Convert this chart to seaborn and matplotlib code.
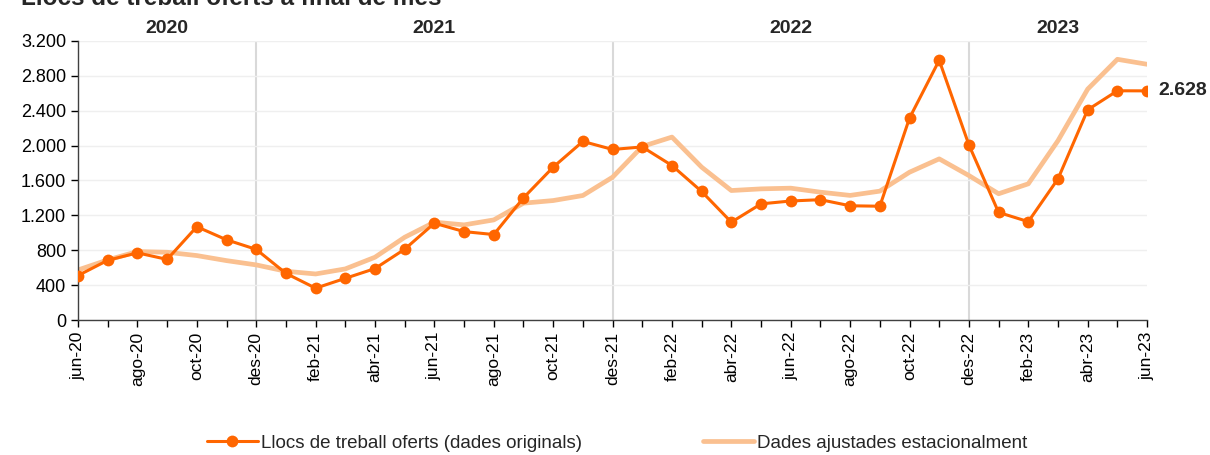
import numpy as np
import pandas as pd
import matplotlib
matplotlib.use("Agg")
import matplotlib.pyplot as plt
import matplotlib.ticker as mticker
import seaborn as sns

# ====== 数据 ======
MONTH_NAMES = ["jun-20", "jul-20", "ago-20", "set-20", "oct-20", "nov-20", "des-20",
               "gen-21", "feb-21", "mar-21", "abr-21", "mai-21", "jun-21", "jul-21",
               "ago-21", "set-21", "oct-21", "nov-21", "des-21",
               "gen-22", "feb-22", "mar-22", "abr-22", "mai-22", "jun-22", "jul-22",
               "ago-22", "set-22", "oct-22", "nov-22", "des-22",
               "gen-23", "feb-23", "mar-23", "abr-23", "mai-23", "jun-23"]

ORIGINAL = [510, 685, 770, 695, 1070, 920, 810,
            535, 365, 478, 590, 812, 1110, 1014,
            980, 1401, 1753, 2048, 1956,
            1985, 1772, 1474, 1122, 1332, 1365, 1380,
            1310, 1305, 2316, 2979, 2008,
            1234, 1128, 1619, 2411, 2629, 2628]

ADJUSTED = [574, 689, 785, 777, 739, 681, 632,
            559, 528, 586, 720, 949, 1122, 1091,
            1148, 1340, 1370, 1428, 1638,
            1990, 2098, 1753, 1485, 1504, 1512, 1466,
            1429, 1478, 1695, 1848, 1657,
            1448, 1562, 2057, 2648, 2990, 2933]

YEARS = ["2020", "2021", "2022", "2023"]
YEAR_CENTERS = [3, 12, 24, 33]
YEAR_BREAKS = [6, 18, 30]

TITLE = "Llocs de treball oferts a final de mes"
LABEL_ORIG = "Llocs de treball oferts (dades originals)"
LABEL_ADJ = "Dades ajustades estacionalment"

ORANGE = "#FF6600"
LIGHT = "#FAC090"

# ====== 样式 ======
sns.set_style("white")
plt.rcParams["font.family"] = ["Liberation Sans", "DejaVu Sans"]

df = pd.DataFrame({"x": np.arange(len(MONTH_NAMES)),
                   "orig": ORIGINAL, "adj": ADJUSTED})

fig = plt.figure(figsize=(12.1, 4.55), dpi=100)
ax = fig.add_axes([0.0645, 0.2967, 0.8835, 0.6132])

for xb in YEAR_BREAKS:
    ax.axvline(xb, color="#d9d9d9", linewidth=1.5, zorder=0)
ax.yaxis.grid(True, color="#efefef", linewidth=1)
ax.set_axisbelow(True)

sns.lineplot(data=df, x="x", y="adj", ax=ax, color=LIGHT, linewidth=3.4,
             label=LABEL_ADJ, zorder=2)
sns.lineplot(data=df, x="x", y="orig", ax=ax, color=ORANGE, linewidth=2.2,
             marker="o", markersize=8.5, markeredgewidth=0, label=LABEL_ORIG, zorder=3)

ax.set_xlim(0, len(MONTH_NAMES) - 1)
ax.set_ylim(0, 3200)
ax.set_yticks(range(0, 3201, 400))
ax.yaxis.set_major_formatter(mticker.FuncFormatter(lambda v, _: f"{int(v):,}".replace(",", ".")))
ax.set_xticks(df["x"])
ax.set_xticklabels([m if i % 2 == 0 else "" for i, m in enumerate(MONTH_NAMES)],
                   rotation=90)
ax.tick_params(axis="both", labelsize=13, colors="#000000", length=5, width=1,
               direction="out", bottom=True, left=True)
ax.tick_params(axis="x", labelsize=12.5)
ax.set_xlabel("")
ax.set_ylabel("")
for side in ["top", "right"]:
    ax.spines[side].set_visible(False)
for side in ["left", "bottom"]:
    ax.spines[side].set_color("#404040")
    ax.spines[side].set_linewidth(1)

# 年份标签
for yr, xc in zip(YEARS, YEAR_CENTERS):
    ax.text(xc, 1.045, yr, transform=ax.get_xaxis_transform(), ha="center",
            va="center", fontsize=14, fontweight="bold")

# 最后一个值
ax.annotate(f"{ORIGINAL[-1]:,}".replace(",", "."), xy=(df["x"].iloc[-1], ORIGINAL[-1]),
            xytext=(8, 0), textcoords="offset points", ha="left", va="center",
            fontsize=14, fontweight="bold", annotation_clip=False)

fig.text(0.017, 1 - 5 / 455, TITLE, fontsize=17.5, fontweight="bold",
         ha="left", va="baseline")

handles, labels = ax.get_legend_handles_labels()
order = [labels.index(LABEL_ORIG), labels.index(LABEL_ADJ)]
ax.legend([handles[i] for i in order], [labels[i] for i in order],
          loc="center", bbox_to_anchor=(0.51, 0.026), bbox_transform=fig.transFigure,
          ncol=2, frameon=False, fontsize=13.5, handlelength=2.7, handletextpad=0.15,
          columnspacing=6.5)

fig.savefig("out.png", dpi=100)
